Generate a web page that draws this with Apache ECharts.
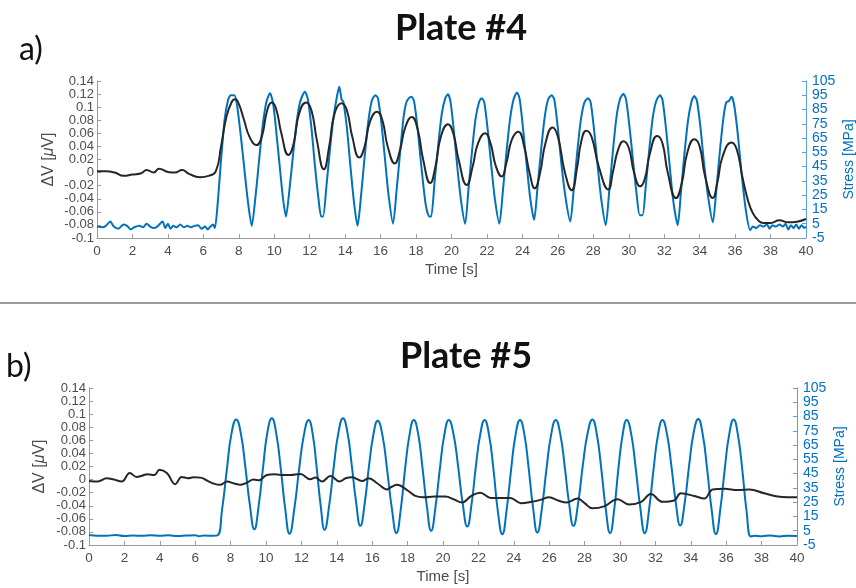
<!DOCTYPE html>
<html>
<head>
<meta charset="utf-8">
<script src="https://cdn.jsdelivr.net/npm/echarts@6/dist/echarts.min.js"></script>
<style>
  html, body { margin: 0; padding: 0; background: #fff; }
  #chart { width: 856px; height: 588px; }
</style>
</head>
<body>
<div id="chart"></div>
<script>
// Time axis ticks (s)
const timeTicks = [0, 40, 2];
// ΔV axis range / step (µV) and stress axis range / step (MPa)
const dvAxis = [-0.1, 0.14, 0.02];
const stressAxis = [-5, 105, 10];

// Plate #4 – applied stress [t (s), MPa]
const stressPlate4 = [
  [0, 3], [0.3, 2.5], [0.5, 3.5], [0.75, 6.5], [0.95, 3], [1.2, 1.5], [1.5, 4.5], [1.7, 3.5], [1.9, 1],
  [2.1, 2.5], [2.4, 3.5], [2.6, 2.5], [2.8, 5], [3.0, 3], [3.2, 2], [3.4, 3], [3.7, 6.5], [3.85, 2],
  [4.0, 5], [4.15, 1.5], [4.3, 3.5], [4.5, 2.5], [4.7, 4.5], [4.9, 2.5], [5.1, 3.5], [5.3, 2.5],
  [5.5, 3.5], [5.7, 4], [5.9, 1.5], [6.1, 3], [6.25, 1], [6.4, 3], [6.55, 4.5], [6.65, 2],
  [6.8, 18], [7.0, 50], [7.2, 78], [7.4, 92], [7.55, 95], [7.75, 95], [7.9, 88], [8.1, 68], [8.3, 45],
  [8.5, 22], [8.73, 3.5], [8.95, 25], [9.15, 50], [9.35, 74], [9.55, 90], [9.76, 96.5], [9.95, 88],
  [10.15, 65], [10.35, 40], [10.5, 22], [10.66, 10], [10.85, 28], [11.05, 52], [11.25, 75], [11.45, 90],
  [11.73, 97.5], [11.9, 92], [12.1, 72], [12.3, 45], [12.5, 22], [12.65, 10], [12.75, 10], [12.95, 32],
  [13.15, 58], [13.35, 80], [13.55, 95], [13.67, 101], [13.8, 92], [13.9, 90.5], [14.1, 72], [14.3, 45],
  [14.5, 20], [14.7, 3.5], [14.9, 25], [15.1, 52], [15.3, 76], [15.5, 91], [15.7, 95], [15.85, 93],
  [16.05, 75], [16.25, 50], [16.45, 25], [16.7, 5], [16.9, 28], [17.1, 55], [17.3, 80], [17.45, 90],
  [17.6, 93], [17.75, 94], [17.9, 90], [18.1, 70], [18.3, 45], [18.55, 18], [18.75, 10], [18.85, 10],
  [19.05, 35], [19.25, 60], [19.45, 82], [19.65, 93], [19.8, 95.7], [19.95, 90], [20.15, 68], [20.35, 42],
  [20.55, 20], [20.77, 5], [20.95, 28], [21.15, 55], [21.35, 78], [21.55, 90], [21.7, 93], [21.85, 90],
  [22.05, 70], [22.25, 45], [22.45, 22], [22.7, 5], [22.9, 28], [23.1, 55], [23.3, 78], [23.5, 92],
  [23.7, 97], [23.85, 92], [24.05, 70], [24.25, 45], [24.45, 22], [24.66, 7.7], [24.85, 30], [25.05, 56],
  [25.25, 79], [25.45, 92], [25.65, 95], [25.8, 92], [26.0, 72], [26.2, 47], [26.45, 22], [26.7, 6.5],
  [26.9, 30], [27.1, 56], [27.3, 78], [27.5, 90], [27.7, 93], [27.85, 90], [28.05, 70], [28.25, 45],
  [28.45, 22], [28.7, 4], [28.9, 28], [29.1, 55], [29.3, 79], [29.5, 92], [29.7, 96], [29.85, 92],
  [30.05, 72], [30.25, 48], [30.45, 25], [30.62, 11], [30.78, 11], [30.95, 30], [31.15, 56], [31.35, 79],
  [31.55, 91], [31.76, 95], [31.9, 92], [32.1, 72], [32.3, 47], [32.5, 22], [32.76, 4], [32.95, 28],
  [33.15, 55], [33.35, 78], [33.55, 91], [33.7, 94.5], [33.85, 91], [34.05, 72], [34.25, 47], [34.5, 22],
  [34.74, 6], [34.95, 30], [35.15, 57], [35.35, 80], [35.5, 90], [35.65, 91], [35.8, 94], [35.95, 88],
  [36.15, 68], [36.35, 42], [36.6, 15], [36.85, 0.5], [37.0, 3], [37.2, 2], [37.4, 4], [37.6, 3],
  [37.8, 4.5], [37.95, 1.5], [38.1, 4], [38.3, 3], [38.5, 4.5], [38.7, 3], [38.85, 5], [39.0, 1],
  [39.15, 4], [39.3, 2], [39.45, 4.5], [39.6, 1.5], [39.75, 4], [39.9, 2], [40, 3]
];

// Plate #4 – voltage change [t (s), µV]
const dvPlate4 = [
  [0, 0.002], [0.5, 0.002], [1.0, 0.0], [1.5, -0.005], [2.0, -0.003], [2.5, -0.001], [2.8, 0.004],
  [3.2, 0.0], [3.5, 0.006], [4.0, 0.001], [4.4, 0.0], [4.8, 0.004], [5.2, -0.002], [5.8, -0.007],
  [6.3, -0.005], [6.7, 0.002], [7.0, 0.04], [7.3, 0.085], [7.6, 0.108], [7.8, 0.112], [8.0, 0.105],
  [8.3, 0.08], [8.6, 0.055], [9.0, 0.042], [9.3, 0.055], [9.6, 0.095], [9.86, 0.107], [10.1, 0.098],
  [10.4, 0.06], [10.8, 0.027], [11.1, 0.045], [11.4, 0.09], [11.8, 0.107], [12.1, 0.095], [12.4, 0.05],
  [12.8, 0.005], [13.1, 0.04], [13.4, 0.09], [13.8, 0.106], [14.1, 0.095], [14.4, 0.055], [14.8, 0.023],
  [15.1, 0.04], [15.4, 0.078], [15.8, 0.093], [16.1, 0.08], [16.4, 0.04], [16.8, 0.014], [17.1, 0.035],
  [17.4, 0.07], [17.76, 0.085], [18.1, 0.065], [18.4, 0.02], [18.8, -0.016], [19.1, 0.01], [19.4, 0.055],
  [19.8, 0.074], [20.1, 0.06], [20.4, 0.02], [20.86, -0.019], [21.2, 0.01], [21.5, 0.045], [21.9, 0.06],
  [22.2, 0.045], [22.5, 0.01], [22.83, -0.006], [23.1, 0.015], [23.4, 0.05], [23.77, 0.0625], [24.1, 0.04],
  [24.4, 0.0], [24.7, -0.024], [25.0, 0.0], [25.3, 0.045], [25.7, 0.069], [26.0, 0.055], [26.4, 0.0],
  [26.78, -0.027], [27.1, 0.01], [27.3, 0.045], [27.6, 0.064], [27.9, 0.055], [28.3, 0.01], [28.85, -0.026],
  [29.1, 0.0], [29.4, 0.035], [29.7, 0.048], [30.0, 0.038], [30.3, 0.0], [30.65, -0.021], [30.9, -0.01],
  [31.2, 0.03], [31.6, 0.056], [31.9, 0.045], [32.2, 0.0], [32.67, -0.039], [33.0, -0.015], [33.3, 0.03],
  [33.7, 0.051], [34.0, 0.04], [34.3, -0.005], [34.74, -0.039], [35.0, -0.015], [35.3, 0.025], [35.8, 0.046],
  [36.1, 0.035], [36.4, -0.005], [36.7, -0.04], [37.0, -0.062], [37.3, -0.073], [37.6, -0.077], [38.0, -0.077],
  [38.5, -0.073], [39.0, -0.076], [39.5, -0.075], [40, -0.071]
];

// Plate #5 – applied stress [t (s), MPa]
const stressPlate5 = [
  [0, 2], [0.5, 1.5], [1, 1.5], [1.5, 2], [2, 1.3], [2.5, 1.6], [3, 1.5], [3.5, 1.8], [4, 1.5],
  [4.5, 1.8], [5, 1.3], [5.5, 1.6], [6, 1.8], [6.2, 1.2], [6.5, 1.6], [7, 1.5], [7.26, 1.7],
  [7.52, 20], [7.79, 48], [8.05, 73], [8.32, 83], [8.58, 73], [8.83, 50], [9.09, 23], [9.34, 6],
  [9.59, 23], [9.84, 50], [10.08, 74], [10.33, 83.8], [10.58, 73], [10.83, 49], [11.08, 21], [11.33, 2.8],
  [11.6, 20.4], [11.87, 48], [12.14, 72], [12.41, 82.6], [12.64, 72.6], [12.86, 49.5], [13.09, 22.5], [13.31, 5.6],
  [13.57, 22.8], [13.83, 50], [14.09, 73.6], [14.35, 83.8], [14.6, 74], [14.84, 51.4], [15.09, 25], [15.33, 8.4],
  [15.58, 24.6], [15.82, 50.4], [16.07, 72.4], [16.31, 82], [16.58, 71.8], [16.84, 48], [17.11, 20.6], [17.37, 3.3],
  [17.62, 20.7], [17.86, 48.5], [18.11, 72.3], [18.35, 82.6], [18.6, 72.5], [18.84, 49.2], [19.09, 22], [19.33, 5],
  [19.58, 22], [19.83, 49.2], [20.08, 72.5], [20.33, 82.6], [20.59, 72.9], [20.85, 50.5], [21.11, 24.3], [21.37, 7.9],
  [21.62, 24.3], [21.86, 50.5], [22.11, 72.9], [22.35, 82.6], [22.6, 72.2], [22.85, 48.2], [23.1, 18.6], [23.35, 2.6],
  [23.6, 20.2], [23.85, 48.2], [24.1, 72.2], [24.35, 82.6], [24.6, 72.3], [24.84, 48.7], [25.09, 21], [25.33, 3.7],
  [25.59, 21], [25.85, 48.7], [26.11, 72.3], [26.37, 82.6], [26.62, 73], [26.87, 50.7], [27.12, 24.5], [27.37, 8.4],
  [27.64, 24.8], [27.9, 50.9], [28.17, 73.3], [28.44, 83], [28.69, 72.6], [28.94, 48.7], [29.19, 20.8], [29.44, 3.3],
  [29.68, 20.7], [29.91, 48.5], [30.15, 72.3], [30.38, 82.6], [30.64, 72.3], [30.89, 48.5], [31.15, 20.7], [31.4, 3.3],
  [31.65, 20.7], [31.9, 48.5], [32.15, 72.3], [32.4, 82.6], [32.65, 73], [32.9, 50.8], [33.15, 24.9], [33.4, 8.6],
  [33.66, 25], [33.91, 51.2], [34.17, 74.3], [34.42, 83.3], [34.67, 72.8], [34.92, 48.6], [35.17, 20.5], [35.42, 2.6],
  [35.67, 20.3], [35.92, 48.4], [36.17, 72.5], [36.42, 83], [36.66, 72.3], [36.91, 47.7], [37.15, 18.8], [37.4, 1],
  [37.6, 1.5], [38, 1.2], [38.5, 1.6], [39, 1.0], [39.5, 1.5], [40, 1.3]
];

// Plate #5 – voltage change [t (s), µV]
const dvPlate5 = [
  [0, -0.002], [0.5, -0.003], [1.0, 0.002], [1.4, 0.0], [1.85, -0.003], [2.3, 0.01], [2.7, 0.004],
  [3.0, 0.006], [3.3, 0.008], [3.7, 0.007], [3.98, 0.015], [4.4, 0.01], [4.87, -0.007], [5.24, 0.004],
  [5.6, 0.002], [5.9, 0.0035], [6.3, 0.003], [6.7, -0.002], [7.03, -0.006], [7.4, -0.008], [7.8, -0.003],
  [8.2, -0.006], [8.54, -0.008], [8.9, -0.005], [9.3, 0.0], [9.6, -0.001], [10.05, 0.007], [10.5, 0.008],
  [11.0, 0.007], [11.37, 0.007], [11.94, 0.0085], [12.5, 0.0005], [12.8, 0.003], [13.17, -0.003],
  [13.64, 0.0055], [14.16, -0.003], [14.5, 0.002], [14.86, 0.0035], [15.43, -0.002], [15.8, 0.002],
  [16.3, -0.006], [16.84, -0.015], [17.1, -0.011], [17.4, -0.008], [17.97, -0.016], [18.44, -0.025],
  [18.9, -0.027], [19.5, -0.026], [20.14, -0.026], [20.6, -0.03], [21.08, -0.035], [21.6, -0.025],
  [22.1, -0.02], [22.7, -0.028], [23.2, -0.028], [23.8, -0.028], [24.4, -0.036], [25.0, -0.034],
  [25.5, -0.031], [26.0, -0.027], [26.5, -0.032], [27.0, -0.035], [27.6, -0.029], [28.0, -0.036],
  [28.44, -0.044], [29.1, -0.041], [29.86, -0.030], [30.5, -0.038], [31.2, -0.034], [31.74, -0.022],
  [32.4, -0.034], [33.06, -0.032], [33.44, -0.021], [34.2, -0.025], [34.76, -0.029], [35.24, -0.015],
  [35.9, -0.014], [36.65, -0.016], [37.3, -0.015], [38.15, -0.021], [38.9, -0.026], [39.5, -0.027],
  [40, -0.027]
];

const BLUE = '#0072BD';
const BLACK = '#262626';
const AXIS_GRAY = '#9a9a9a';
const LABEL_GRAY = '#4d4d4d';
const FONT = '"Liberation Sans", Arial, sans-serif';

function fmtDv(v) {
  return String(Math.round(v * 100) / 100);
}

function xAxisFor(gridIndex) {
  return {
    gridIndex, type: 'value', min: timeTicks[0], max: timeTicks[1], interval: timeTicks[2],
    name: 'Time [s]', nameLocation: 'middle', nameGap: 24, nameMoveOverlap: false,
    nameTextStyle: { color: LABEL_GRAY, fontSize: 15, fontFamily: FONT },
    axisLine: { show: true, onZero: false, lineStyle: { color: AXIS_GRAY, width: 1 } },
    axisTick: { show: true, inside: true, length: 4, lineStyle: { color: AXIS_GRAY } },
    axisLabel: { color: LABEL_GRAY, fontSize: 13.5, fontFamily: FONT, margin: 6,
                 showMinLabel: true, showMaxLabel: true, hideOverlap: false },
    splitLine: { show: false }
  };
}

function dvAxisFor(gridIndex, gap) {
  return {
    gridIndex, type: 'value', position: 'left',
    min: dvAxis[0], max: dvAxis[1], interval: dvAxis[2],
    name: '{n|ΔV [}{i|μ}{n|V]}', nameLocation: 'middle', nameRotate: 90, nameGap: gap,
    nameMoveOverlap: false,
    nameTextStyle: {
      rich: {
        n: { color: LABEL_GRAY, fontSize: 16, fontFamily: FONT },
        i: { color: LABEL_GRAY, fontSize: 16, fontFamily: FONT, fontStyle: 'italic' }
      }
    },
    axisLine: { show: true, lineStyle: { color: AXIS_GRAY, width: 1 } },
    axisTick: { show: true, inside: true, length: 4, lineStyle: { color: AXIS_GRAY } },
    axisLabel: { color: LABEL_GRAY, fontSize: 13, fontFamily: FONT, margin: 3, formatter: fmtDv,
                 showMinLabel: true, showMaxLabel: true, hideOverlap: false },
    splitLine: { show: false }
  };
}

function stressAxisFor(gridIndex, gap) {
  return {
    gridIndex, type: 'value', position: 'right',
    min: stressAxis[0], max: stressAxis[1], interval: stressAxis[2],
    name: 'Stress [MPa]', nameLocation: 'middle', nameRotate: 90, nameGap: gap,
    nameMoveOverlap: false,
    nameTextStyle: { color: BLUE, fontSize: 14, fontFamily: FONT },
    axisLine: { show: true, lineStyle: { color: '#5aa0d6', width: 1 } },
    axisTick: { show: true, inside: true, length: 4, lineStyle: { color: '#5aa0d6' } },
    axisLabel: { color: BLUE, fontSize: 14, fontFamily: FONT, margin: 6,
                 showMinLabel: true, showMaxLabel: true, hideOverlap: false },
    splitLine: { show: false }
  };
}

function lineSeries(data, xi, yi, color, smooth) {
  return {
    type: 'line', xAxisIndex: xi, yAxisIndex: yi, data, smooth,
    showSymbol: false, symbol: 'none', animation: false,
    lineStyle: { color, width: 2 }, itemStyle: { color }
  };
}

const chart = echarts.init(document.getElementById('chart'), null, { renderer: 'canvas' });
chart.setOption({
  backgroundColor: '#ffffff',
  animation: false,
  grid: [
    { left: 97, top: 81, width: 709, height: 157, containLabel: false, outerBoundsMode: 'none' },
    { left: 89, top: 388, width: 708, height: 157, containLabel: false, outerBoundsMode: 'none' }
  ],
  xAxis: [xAxisFor(0), xAxisFor(1)],
  yAxis: [dvAxisFor(0, 40), stressAxisFor(0, 36), dvAxisFor(1, 41), stressAxisFor(1, 36)],
  series: [
    lineSeries(stressPlate4, 0, 1, BLUE, 0.25),
    lineSeries(dvPlate4, 0, 0, BLACK, 0.5),
    lineSeries(stressPlate5, 1, 3, BLUE, 0.5),
    lineSeries(dvPlate5, 1, 2, BLACK, 0.4)
  ],
  graphic: [
    { type: 'text', x: 461, y: 10, style: { text: 'Plate #4', align: 'center', font: 'bold 36px Lato, sans-serif', fill: '#111' }, z: 10 },
    { type: 'text', x: 19, y: 34, style: { text: 'a)', font: '32px Lato, sans-serif', fill: '#111' } },
    { type: 'line', shape: { x1: 0, y1: 303, x2: 856, y2: 303 }, style: { stroke: '#9b9b9b', lineWidth: 2 } },
    { type: 'text', x: 466, y: 338, style: { text: 'Plate #5', align: 'center', font: 'bold 36px Lato, sans-serif', fill: '#111' }, z: 10 },
    { type: 'text', x: 6, y: 351, style: { text: 'b)', font: '32px Lato, sans-serif', fill: '#111' } }
  ]
});
</script>
</body>
</html>
